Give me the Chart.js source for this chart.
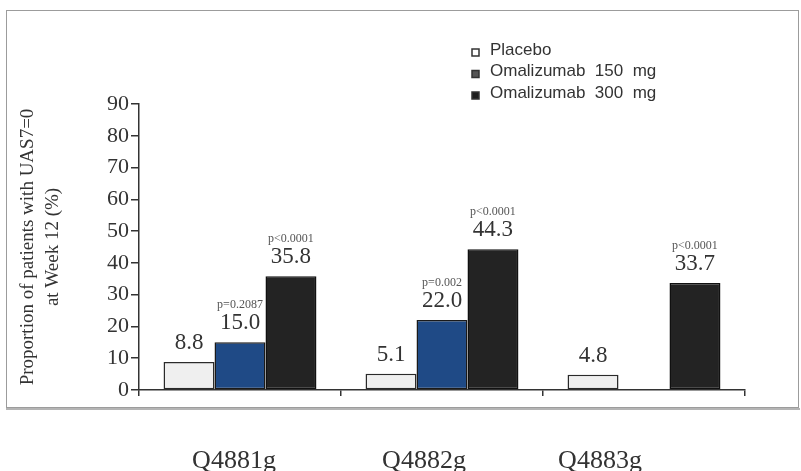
<!DOCTYPE html>
<html>
<head>
<meta charset="utf-8">
<script src="https://cdn.jsdelivr.net/npm/chart.js@4/dist/chart.umd.min.js"></script>
<style>
  html, body { margin: 0; padding: 0; background: #fff; }
  #wrap { width: 801px; height: 471px; }
</style>
</head>
<body>
<div id="wrap"><canvas id="c" width="801" height="471"></canvas></div>
<script>
// Study names and response rates (% of patients with UAS7=0 at week 12)
const studies   = ['Q4881g', 'Q4882g', 'Q4883g'];
const placebo   = [8.8, 5.1, 4.8];
const oma150    = [15.0, 22.0, null];
const oma300    = [35.8, 44.3, 33.7];
const pOma150   = ['p=0.2087', 'p=0.002', null];
const pOma300   = ['p<0.0001', 'p<0.0001', 'p<0.0001'];
const yTicks    = [0, 10, 20, 30, 40, 50, 60, 70, 80, 90];

const SERIF = '"Liberation Serif", "Times New Roman", serif';
const SANS  = '"Liberation Sans", Arial, sans-serif';
const INK   = '#333';

// white page with a thin grey frame around the plot
const framePlugin = {
  id: 'frame',
  beforeDraw(chart) {
    const ctx = chart.ctx;
    ctx.save();
    ctx.fillStyle = '#fff';
    ctx.fillRect(0, 0, chart.width, chart.height);
    ctx.strokeStyle = '#9c9c9c';
    ctx.lineWidth = 1;
    ctx.strokeRect(6.5, 10.5, 792, 397);
    ctx.strokeStyle = '#b4b4b4';
    ctx.lineWidth = 2;
    ctx.beginPath();
    ctx.moveTo(6, 409);
    ctx.lineTo(800, 409);
    ctx.stroke();
    ctx.restore();
  }
};

// value and p-value annotations above each bar
const barLabelPlugin = {
  id: 'barLabels',
  afterDatasetsDraw(chart) {
    const ctx = chart.ctx;
    ctx.save();
    ctx.textAlign = 'center';
    ctx.textBaseline = 'middle';
    chart.data.datasets.forEach((ds, di) => {
      const meta = chart.getDatasetMeta(di);
      meta.data.forEach((bar, i) => {
        const v = ds.data[i];
        if (v === null || v === undefined) return;
        const yVal = bar.y - 19;
        ctx.fillStyle = INK;
        ctx.font = '23px ' + SERIF;
        ctx.fillText(v.toFixed(1), bar.x, yVal);
        const p = ds.pLabels ? ds.pLabels[i] : null;
        if (p) {
          ctx.fillStyle = '#555';
          ctx.font = '12px ' + SERIF;
          ctx.fillText(p, bar.x, yVal - 18);
        }
      });
    });
    ctx.restore();
  }
};

// study names printed under the frame, below each group of bars
const studyNamePlugin = {
  id: 'studyNames',
  afterDraw(chart) {
    const ctx = chart.ctx;
    const xs = chart.scales.x;
    const shift = [-6, -18, -44];
    ctx.save();
    ctx.textAlign = 'center';
    ctx.textBaseline = 'alphabetic';
    ctx.fillStyle = INK;
    ctx.font = '26px ' + SERIF;
    chart.data.labels.forEach((name, i) => {
      ctx.fillText(name, xs.getPixelForValue(i) + shift[i], chart.chartArea.bottom + 78);
    });
    ctx.restore();
  }
};

// small square-swatch legend (grey-scale swatches) in the upper right of the plot
const swatchLegendPlugin = {
  id: 'swatchLegend',
  afterDraw(chart) {
    const ctx = chart.ctx;
    const area = chart.chartArea;
    const x0 = area.right - 273;
    const y0 = 50;
    const rowGap = 21.5;
    ctx.save();
    ctx.textAlign = 'left';
    ctx.textBaseline = 'middle';
    ctx.font = '17px ' + SANS;
    chart.data.datasets.forEach((ds, i) => {
      const y = y0 + i * rowGap;
      ctx.fillStyle = ds.swatchColor;
      ctx.strokeStyle = '#333';
      ctx.lineWidth = 1.5;
      ctx.fillRect(x0, y - 1, 7, 7);
      ctx.strokeRect(x0, y - 1, 7, 7);
      ctx.fillStyle = INK;
      ctx.fillText(ds.legendText, x0 + 18, y);
    });
    ctx.restore();
  }
};

const barCommon = {
  borderWidth: 1.5,
  borderSkipped: false,
  barPercentage: 1.0,
  categoryPercentage: 0.757
};

new Chart(document.getElementById('c'), {
  type: 'bar',
  data: {
    labels: studies,
    datasets: [
      Object.assign({ label: 'Placebo', legendText: 'Placebo', data: placebo,
        backgroundColor: '#efefef', borderColor: '#2a2a2a', swatchColor: '#ffffff',
        pLabels: null }, barCommon),
      Object.assign({ label: 'Omalizumab 150 mg', legendText: 'Omalizumab  150  mg', data: oma150,
        backgroundColor: '#1f4a86', borderColor: '#1a1a1a', swatchColor: '#555555',
        pLabels: pOma150 }, barCommon),
      Object.assign({ label: 'Omalizumab 300 mg', legendText: 'Omalizumab  300  mg', data: oma300,
        backgroundColor: '#232323', borderColor: '#111', swatchColor: '#1e1e1e',
        pLabels: pOma300 }, barCommon)
    ]
  },
  options: {
    responsive: false,
    animation: false,
    layout: { padding: { top: 104, right: 56, left: 0, bottom: 0 } },
    plugins: {
      legend: { display: false },
      tooltip: { enabled: false }
    },
    scales: {
      x: {
        type: 'category',
        position: 'bottom',
        offset: true,
        grid: {
          offset: true,
          drawOnChartArea: false,
          drawTicks: true,
          tickLength: 6,
          color: INK,
          lineWidth: 1.5
        },
        border: { color: INK, width: 1.5 },
        ticks: { display: false },
        afterFit(scale) { scale.height = 81; }
      },
      y: {
        min: 0,
        max: 90,
        afterBuildTicks(scale) {
          scale.ticks = yTicks.map(v => ({ value: v }));
        },
        grid: {
          drawOnChartArea: false,
          drawTicks: true,
          tickLength: 8,
          color: INK,
          lineWidth: 1.5
        },
        border: { color: INK, width: 1.5 },
        ticks: {
          padding: 2,
          color: INK,
          font: { family: SERIF, size: 22 }
        },
        title: {
          display: true,
          text: ['Proportion of patients with UAS7=0', 'at Week 12 (%)'],
          color: INK,
          font: { family: SERIF, size: 19, lineHeight: 1.35 },
          padding: { top: 15, bottom: 0 }
        },
        afterFit(scale) { scale.width = 139; }
      }
    }
  },
  plugins: [framePlugin, barLabelPlugin, studyNamePlugin, swatchLegendPlugin]
});
</script>
</body>
</html>
